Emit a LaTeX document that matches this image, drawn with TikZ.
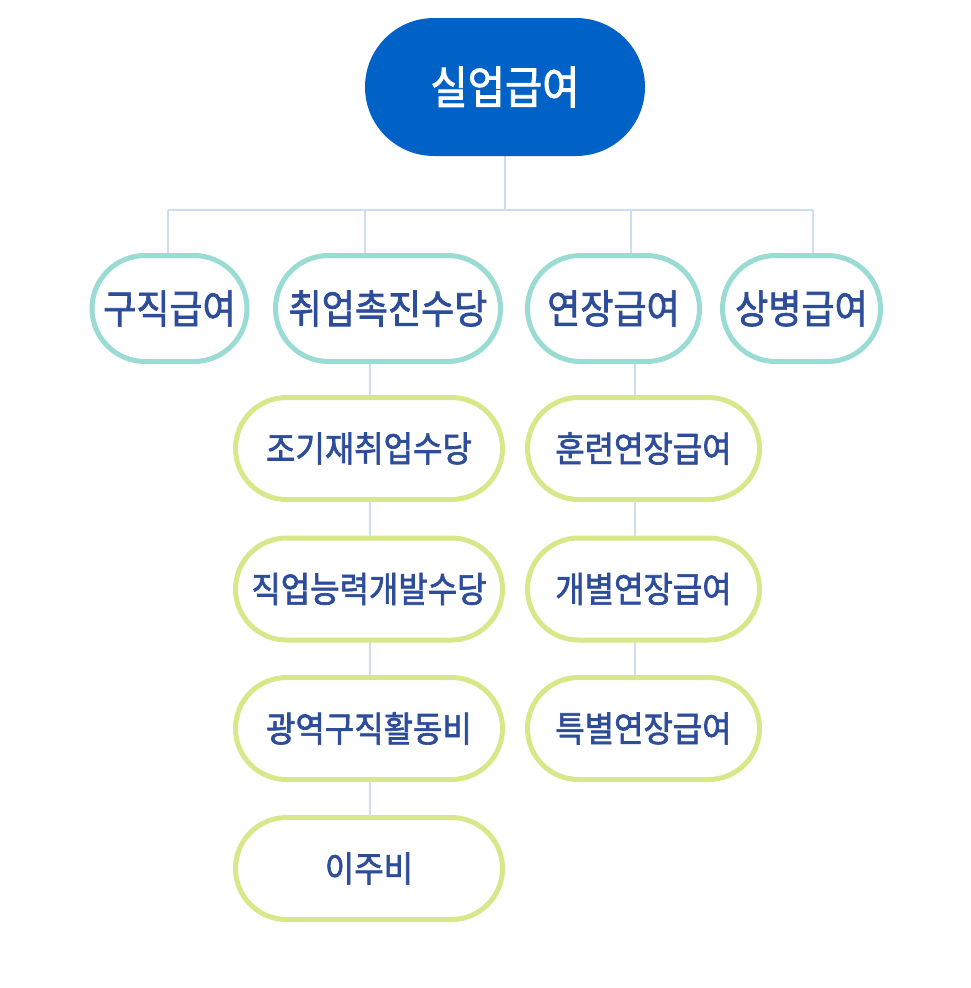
\documentclass[tikz,border=0pt]{standalone}
\usepackage{fontspec}
\newfontfamily\kr[FakeStretch=0.9,FakeBold=1.8]{Noto Sans CJK KR}
\usetikzlibrary{shapes.misc,backgrounds}
\definecolor{topfill}{HTML}{0061C6}
\definecolor{tealb}{HTML}{9ADBD3}
\definecolor{limeb}{HTML}{D6E88A}
\definecolor{txt}{HTML}{2D4C9A}
\definecolor{conn}{HTML}{CCDDEE}
\begin{document}
\begin{tikzpicture}[x=1pt,y=-1pt,
  topbox/.style={rounded rectangle,fill=topfill,text=white,inner sep=0pt,outer sep=0pt,
    minimum width=280pt,minimum height=138pt,font=\kr\fontsize{45}{45}\selectfont},
  lvtwo/.style={rounded rectangle,draw=tealb,line width=5pt,fill=white,text=txt,inner sep=0pt,outer sep=0pt,
    minimum height=106pt,font=\kr\fontsize{40}{40}\selectfont},
  lvthree/.style={rounded rectangle,draw=limeb,line width=5pt,fill=white,text=txt,inner sep=0pt,outer sep=0pt,
    minimum height=102pt,font=\kr\fontsize{35.5}{35.5}\selectfont},
  link/.style={draw=conn,line width=2pt}]
\useasboundingbox (0,0) rectangle (970,988);
\node[topbox] (top) at (505,87) {실업급여};
\node[lvtwo,minimum width=155pt] (a1) at (169.5,308.5) {구직급여};
\node[lvtwo,minimum width=225pt] (a2) at (388,308.5) {취업촉진수당};
\node[lvtwo,minimum width=172pt] (a3) at (613.5,308.5) {연장급여};
\node[lvtwo,minimum width=158pt] (a4) at (801.5,308.5) {상병급여};
\node[lvthree,minimum width=267pt] (b1) at (369,448.5) {조기재취업수당};
\node[lvthree,minimum width=267pt] (b2) at (369,589) {직업능력개발수당};
\node[lvthree,minimum width=267pt] (b3) at (369,728.5) {광역구직활동비};
\node[lvthree,minimum width=267pt] (b4) at (369,868.5) {이주비};
\node[lvthree,minimum width=232pt] (c1) at (643.5,448.5) {훈련연장급여};
\node[lvthree,minimum width=232pt] (c2) at (643.5,589) {개별연장급여};
\node[lvthree,minimum width=232pt] (c3) at (643.5,728.5) {특별연장급여};
\coordinate (j0) at (505,210);
\coordinate (j1) at (168,210);
\coordinate (j2) at (365,210);
\coordinate (j3) at (631,210);
\coordinate (j4) at (813,210);
\coordinate (vl) at (370,0);
\coordinate (vr) at (635,0);
\begin{scope}[on background layer]
\draw[link] (top.south) -- (j0);
\draw[link] (j1) -- (j4);
\draw[link] (j1) -- (j1 |- a1.north);
\draw[link] (j2) -- (j2 |- a2.north);
\draw[link] (j3) -- (j3 |- a3.north);
\draw[link] (j4) -- (j4 |- a4.north);
\draw[link] (vl |- a2.south) -- (vl |- b1.north);
\draw[link] (vl |- b1.south) -- (vl |- b2.north);
\draw[link] (vl |- b2.south) -- (vl |- b3.north);
\draw[link] (vl |- b3.south) -- (vl |- b4.north);
\draw[link] (vr |- a3.south) -- (vr |- c1.north);
\draw[link] (vr |- c1.south) -- (vr |- c2.north);
\draw[link] (vr |- c2.south) -- (vr |- c3.north);
\end{scope}
\end{tikzpicture}
\end{document}
